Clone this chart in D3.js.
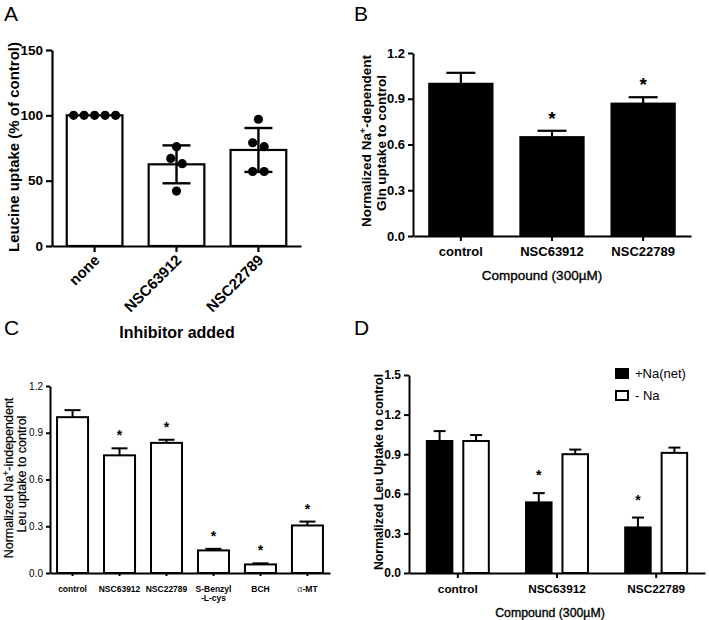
<!DOCTYPE html>
<html><head><meta charset="utf-8">
<script src="https://cdn.jsdelivr.net/npm/d3@7"></script>
<style>body{margin:0;background:#fff}</style>
</head><body>
<svg id="c" width="709" height="620"></svg>
<script>
// ---------- DATA ----------
// Panel A
const aCats = ["none", "NSC63912", "NSC22789"];
const aMeans = [100, 62.5, 73.5];
const aSD = [0, 14.5, 16.8];
const aPoints = [[100, 100, 100, 100, 100], [76, 67, 63, 42], [97, 79, 76, 57, 57]];
const aTicks = [0, 50, 100, 150];
// Panel B
const bCats = ["control", "NSC63912", "NSC22789"];
const bMeans = [1.0, 0.65, 0.87];
const bErr = [0.07, 0.04, 0.04];
const bSig = [false, true, true];
const bTicks = [0, 0.3, 0.6, 0.9, 1.2];
// Panel C
const cCats = ["control", "NSC63912", "NSC22789", "S-Benzyl|-L-cys", "BCH", "α-MT"];
const cMeans = [1.0, 0.755, 0.835, 0.145, 0.055, 0.305];
const cErr = [0.045, 0.045, 0.02, 0.01, 0.007, 0.025];
const cSig = [false, true, true, true, true, true];
const cTicks = [0, 0.3, 0.6, 0.9, 1.2];
// Panel D
const dCats = ["control", "NSC63912", "NSC22789"];
const dSeries = ["+Na(net)", "- Na"];
const dPlus = [1.0, 0.535, 0.345];
const dPlusErr = [0.075, 0.07, 0.075];
const dMinus = [1.0, 0.9, 0.91];
const dMinusErr = [0.045, 0.035, 0.04];
const dSig = [false, true, true];
const dTicks = [0, 0.3, 0.6, 0.9, 1.2, 1.5];

// ---------- DRAW ----------
const FONT = '"Liberation Sans", Arial, Helvetica, sans-serif';
const svg = d3.select("#c").attr("font-family", FONT);
const fmt1 = d3.format(".1f");

function styleAxis(g, sw, fs, fw) {
  g.attr("font-family", FONT);
  g.select(".domain").attr("stroke", "#000").attr("stroke-width", sw);
  g.selectAll(".tick line").attr("stroke", "#000").attr("stroke-width", sw);
  g.selectAll(".tick text").attr("fill", "#000").attr("font-size", fs).attr("font-weight", fw);
}

function panelLabel(t, x, y) {
  svg.append("text").attr("x", x).attr("y", y).attr("font-size", 21).attr("fill", "#000").text(t);
}

// ===== Panel A =====
{
  const x = d3.scaleBand().domain(aCats).range([52, 301]).paddingInner(0.32).paddingOuter(0.18);
  const y = d3.scaleLinear().domain([0, 150]).range([246, 50]);
  const g = svg.append("g");
  g.selectAll("rect").data(aCats).join("rect")
    .attr("x", d => x(d)).attr("y", (d, i) => y(aMeans[i]))
    .attr("width", x.bandwidth()).attr("height", (d, i) => y(0) - y(aMeans[i]))
    .attr("fill", "#fff").attr("stroke", "#000").attr("stroke-width", 2.2);
  // error bars (mean ± SD)
  aCats.forEach((c, i) => {
    if (aSD[i] <= 0) return;
    const cx = x(c) + x.bandwidth() / 2, cw = 14;
    const t = y(aMeans[i] + aSD[i]), b = y(aMeans[i] - aSD[i]);
    g.append("line").attr("x1", cx).attr("x2", cx).attr("y1", t).attr("y2", b).attr("stroke", "#000").attr("stroke-width", 2.4);
    [t, b].forEach(yy => g.append("line").attr("x1", cx - cw).attr("x2", cx + cw).attr("y1", yy).attr("y2", yy).attr("stroke", "#000").attr("stroke-width", 2.4));
  });
  // individual points, spread horizontally where they overlap
  aCats.forEach((c, i) => {
    const cx = x(c) + x.bandwidth() / 2;
    const pts = aPoints[i].map(v => ({ v, py: y(v) })).sort((a, b) => a.py - b.py);
    const clusters = [];
    pts.forEach(p => {
      const last = clusters[clusters.length - 1];
      if (last && Math.abs(p.py - last[last.length - 1].py) < 8) last.push(p); else clusters.push([p]);
    });
    clusters.forEach(cl => {
      cl.forEach((p, k) => {
        const off = (k - (cl.length - 1) / 2) * (cl.length > 2 ? 10.5 : 11.5);
        g.append("circle").attr("cx", cx + off).attr("cy", p.py).attr("r", 4.6).attr("fill", "#000");
      });
    });
  });
  const ya = svg.append("g").attr("transform", "translate(52,0)")
    .call(d3.axisLeft(y).tickValues(aTicks).tickSize(6).tickSizeOuter(0).tickPadding(3));
  styleAxis(ya, 2.2, 13.5, "bold");
  const xa = svg.append("g").attr("transform", "translate(0,246)")
    .call(d3.axisBottom(x).tickSize(6).tickSizeOuter(0));
  styleAxis(xa, 2.2, 15, "bold");
  xa.selectAll(".tick text").attr("text-anchor", "end").attr("dy", null).attr("y", 0)
    .attr("transform", "translate(6,15) rotate(-45)");
  svg.append("text").attr("transform", "translate(19,147) rotate(-90)").attr("text-anchor", "middle")
    .attr("font-size", 15).attr("font-weight", "bold").text("Leucine uptake (% of control)");
  svg.append("text").attr("x", 177).attr("y", 338).attr("text-anchor", "middle")
    .attr("font-size", 16).attr("font-weight", "bold").text("Inhibitor added");
  panelLabel("A", 4, 21);
}

// ===== Panel B =====
{
  const x = d3.scaleBand().domain(bCats).range([413, 691]).paddingInner(0.3).paddingOuter(0.175);
  const y = d3.scaleLinear().domain([0, 1.2]).range([236, 53]);
  const g = svg.append("g");
  bCats.forEach((c, i) => {
    const cx = x(c) + x.bandwidth() / 2, t = y(bMeans[i] + bErr[i]);
    g.append("line").attr("x1", cx).attr("x2", cx).attr("y1", y(bMeans[i])).attr("y2", t).attr("stroke", "#000").attr("stroke-width", 2.2);
    g.append("line").attr("x1", cx - 14.5).attr("x2", cx + 14.5).attr("y1", t).attr("y2", t).attr("stroke", "#000").attr("stroke-width", 2.2);
    if (bSig[i]) g.append("text").attr("x", cx).attr("y", t - 6).attr("text-anchor", "middle")
      .attr("font-size", 19).attr("font-weight", "bold").text("*");
  });
  g.selectAll("rect").data(bCats).join("rect")
    .attr("x", d => x(d)).attr("y", (d, i) => y(bMeans[i]))
    .attr("width", x.bandwidth()).attr("height", (d, i) => y(0) - y(bMeans[i]))
    .attr("fill", "#000").attr("stroke", "#000").attr("stroke-width", 1.5);
  const ya = svg.append("g").attr("transform", "translate(413,0)")
    .call(d3.axisLeft(y).tickValues(bTicks).tickFormat(fmt1).tickSize(5).tickSizeOuter(0).tickPadding(3));
  styleAxis(ya, 2, 13, "bold");
  const xa = svg.append("g").attr("transform", "translate(0,236)")
    .call(d3.axisBottom(x).tickSize(5).tickSizeOuter(0).tickPadding(6));
  styleAxis(xa, 2, 13, "bold");
  const t1 = svg.append("text").attr("transform", "translate(371,141) rotate(-90)").attr("text-anchor", "middle")
    .attr("font-size", 13.5).attr("font-weight", "bold");
  t1.append("tspan").text("Normalized Na");
  t1.append("tspan").attr("font-size", 9).attr("dy", -5).text("+");
  t1.append("tspan").attr("dy", 5).text("-dependent");
  svg.append("text").attr("transform", "translate(386,143) rotate(-90)").attr("text-anchor", "middle")
    .attr("font-size", 13.5).attr("font-weight", "bold").text("Gln uptake to control");
  svg.append("text").attr("x", 542).attr("y", 280).attr("text-anchor", "middle")
    .attr("font-size", 13.5).attr("stroke", "#000").attr("stroke-width", 0.35).text("Compound (300µM)");
  panelLabel("B", 354, 21);
}

// ===== Panel C =====
{
  const x = d3.scaleBand().domain(cCats).range([50, 330]).paddingInner(0.34).paddingOuter(0.15);
  const y = d3.scaleLinear().domain([0, 1.2]).range([573, 386]);
  const g = svg.append("g");
  g.selectAll("rect").data(cCats).join("rect")
    .attr("x", d => x(d)).attr("y", (d, i) => y(cMeans[i]))
    .attr("width", x.bandwidth()).attr("height", (d, i) => y(0) - y(cMeans[i]))
    .attr("fill", "#fff").attr("stroke", "#000").attr("stroke-width", 2);
  cCats.forEach((c, i) => {
    const cx = x(c) + x.bandwidth() / 2, t = y(cMeans[i] + cErr[i]);
    g.append("line").attr("x1", cx).attr("x2", cx).attr("y1", y(cMeans[i])).attr("y2", t).attr("stroke", "#000").attr("stroke-width", 2);
    g.append("line").attr("x1", cx - 8).attr("x2", cx + 8).attr("y1", t).attr("y2", t).attr("stroke", "#000").attr("stroke-width", 2);
    if (cSig[i]) g.append("text").attr("x", cx).attr("y", t - 8).attr("text-anchor", "middle")
      .attr("font-size", 14).attr("font-weight", "bold").text("*");
  });
  const ya = svg.append("g").attr("transform", "translate(50,0)")
    .call(d3.axisLeft(y).tickValues(cTicks).tickFormat(fmt1).tickSize(4).tickSizeOuter(0).tickPadding(3));
  styleAxis(ya, 2, 10, "normal");
  const xa = svg.append("g").attr("transform", "translate(0,573)")
    .call(d3.axisBottom(x).tickSize(3).tickSizeOuter(0));
  styleAxis(xa, 2, 8.5, "bold");
  xa.selectAll(".tick text").each(function (d) {
    const el = d3.select(this).text(null).attr("y", 16).attr("dy", "0.3em");
    if (d.startsWith("α")) {
      el.append("tspan").attr("font-family", '"Liberation Serif", serif').attr("font-weight", "normal").attr("font-size", 10).attr("fill", "#555").text("α");
      el.append("tspan").text(d.slice(1));
    } else {
      const parts = d.split("|");
      parts.forEach((p, k) => el.append("tspan").attr("x", 0).attr("dy", k === 0 ? "0.3em" : 9).text(p));
    }
  });
  const t1 = svg.append("text").attr("transform", "translate(13,478) rotate(-90)").attr("text-anchor", "middle")
    .attr("font-size", 12.5).attr("stroke", "#000").attr("stroke-width", 0.2);
  t1.append("tspan").text("Normalized Na");
  t1.append("tspan").attr("font-size", 8.5).attr("dy", -4.5).text("+");
  t1.append("tspan").attr("dy", 4.5).text("-independent");
  svg.append("text").attr("transform", "translate(26,474) rotate(-90)").attr("text-anchor", "middle")
    .attr("font-size", 12.5).attr("stroke", "#000").attr("stroke-width", 0.2).text("Leu uptake to control");
  panelLabel("C", 4, 335);
}

// ===== Panel D =====
{
  const x0 = d3.scaleBand().domain(dCats).range([409, 705]).paddingInner(0.375).paddingOuter(0.18);
  const x1 = d3.scaleBand().domain(dSeries).range([0, x0.bandwidth()]).paddingInner(0.3);
  const y = d3.scaleLinear().domain([0, 1.5]).range([573, 375]);
  const vals = [dPlus, dMinus], errs = [dPlusErr, dMinusErr], fills = ["#000", "#fff"];
  const g = svg.append("g");
  dCats.forEach((c, i) => {
    dSeries.forEach((s, k) => {
      const bx = x0(c) + x1(s), v = vals[k][i], e = errs[k][i];
      const cx = bx + x1.bandwidth() / 2, t = y(v + e);
      g.append("line").attr("x1", cx).attr("x2", cx).attr("y1", y(v)).attr("y2", t).attr("stroke", "#000").attr("stroke-width", 2);
      g.append("line").attr("x1", cx - 6).attr("x2", cx + 6).attr("y1", t).attr("y2", t).attr("stroke", "#000").attr("stroke-width", 2);
      g.append("rect").attr("x", bx).attr("y", y(v)).attr("width", x1.bandwidth()).attr("height", y(0) - y(v))
        .attr("fill", fills[k]).attr("stroke", "#000").attr("stroke-width", 2);
      if (k === 0 && dSig[i]) g.append("text").attr("x", cx).attr("y", t - 13).attr("text-anchor", "middle")
        .attr("font-size", 14).attr("font-weight", "bold").text("*");
    });
  });
  const ya = svg.append("g").attr("transform", "translate(409,0)")
    .call(d3.axisLeft(y).tickValues(dTicks).tickFormat(fmt1).tickSize(5).tickSizeOuter(0).tickPadding(3));
  styleAxis(ya, 2, 12, "bold");
  const xa = svg.append("g").attr("transform", "translate(0,573)")
    .call(d3.axisBottom(x0).tickSize(5).tickSizeOuter(0).tickPadding(7));
  styleAxis(xa, 2, 11.8, "bold");
  svg.append("text").attr("transform", "translate(383,472) rotate(-90)").attr("text-anchor", "middle")
    .attr("font-size", 12.3).attr("font-weight", "bold").text("Normalized Leu Uptake to control");
  svg.append("text").attr("x", 550).attr("y", 617).attr("text-anchor", "middle")
    .attr("font-size", 12.3).attr("stroke", "#000").attr("stroke-width", 0.35).text("Compound (300µM)");
  // legend
  dSeries.forEach((s, k) => {
    const ly = 369 + k * 22;
    svg.append("rect").attr("x", 616).attr("y", ly).attr("width", 12).attr("height", 9)
      .attr("fill", fills[k]).attr("stroke", "#000").attr("stroke-width", 2);
    svg.append("text").attr("x", 635).attr("y", ly + 9).attr("font-size", 13).text(s);
  });
  panelLabel("D", 354, 335);
}
</script>
</body></html>
